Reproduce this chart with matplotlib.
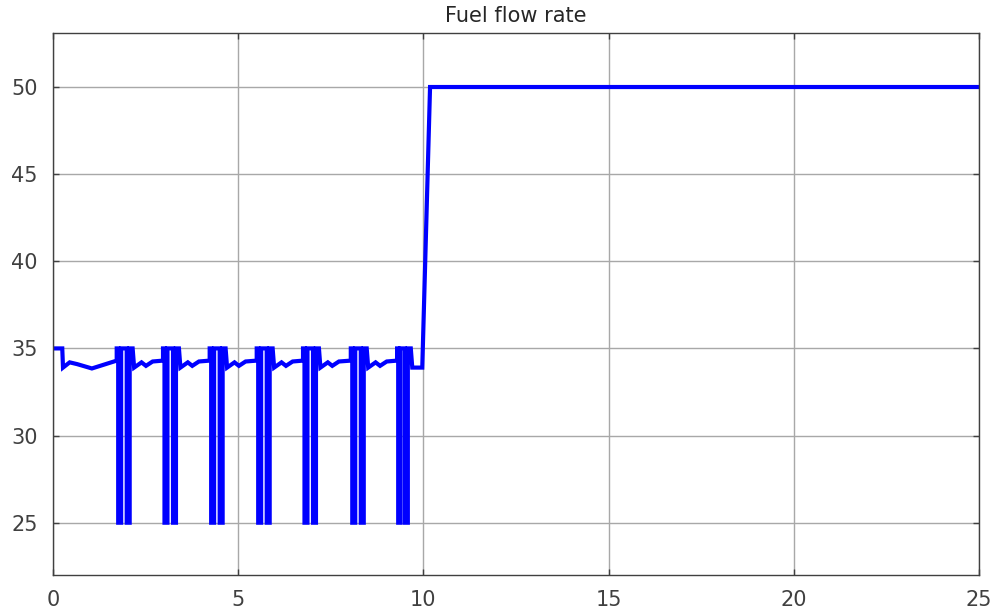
import matplotlib
matplotlib.use("Agg")
import matplotlib.pyplot as plt

# Fuel flow rate trace (time in s, flow value)
t = [
    0.00, 0.25, 0.27, 0.45, 0.65, 1.05, 1.72,
    1.72, 1.76, 1.76, 1.84, 1.84, 1.99, 1.99, 2.07, 2.07, 2.15, 2.19,
    2.39, 2.51, 2.69, 2.97,
    2.97, 3.01, 3.01, 3.09, 3.09, 3.24, 3.24, 3.32, 3.32, 3.40, 3.44,
    3.64, 3.76, 3.94, 4.23,
    4.23, 4.27, 4.27, 4.35, 4.35, 4.50, 4.50, 4.58, 4.58, 4.66, 4.70,
    4.90, 5.02, 5.20, 5.50,
    5.50, 5.54, 5.54, 5.62, 5.62, 5.77, 5.77, 5.85, 5.85, 5.93, 5.97,
    6.17, 6.29, 6.47, 6.75,
    6.75, 6.79, 6.79, 6.87, 6.87, 7.02, 7.02, 7.10, 7.10, 7.18, 7.22,
    7.42, 7.54, 7.72, 8.04,
    8.04, 8.08, 8.08, 8.16, 8.16, 8.31, 8.31, 8.39, 8.39, 8.47, 8.51,
    8.71, 8.83, 9.01, 9.29,
    9.29, 9.32, 9.32, 9.38, 9.38, 9.50, 9.50, 9.58, 9.58, 9.66, 9.70,
    9.97, 10.18, 25.00,
]
fuel = [
    35.0, 35.0, 33.9, 34.2, 34.1, 33.85, 34.3,
    35.0, 35.0, 25.0, 25.0, 35.0, 35.0, 25.0, 25.0, 35.0, 35.0, 33.9,
    34.2, 34.0, 34.25, 34.3,
    35.0, 35.0, 25.0, 25.0, 35.0, 35.0, 25.0, 25.0, 35.0, 35.0, 33.9,
    34.2, 34.0, 34.25, 34.3,
    35.0, 35.0, 25.0, 25.0, 35.0, 35.0, 25.0, 25.0, 35.0, 35.0, 33.9,
    34.2, 34.0, 34.25, 34.3,
    35.0, 35.0, 25.0, 25.0, 35.0, 35.0, 25.0, 25.0, 35.0, 35.0, 33.9,
    34.2, 34.0, 34.25, 34.3,
    35.0, 35.0, 25.0, 25.0, 35.0, 35.0, 25.0, 25.0, 35.0, 35.0, 33.9,
    34.2, 34.0, 34.25, 34.3,
    35.0, 35.0, 25.0, 25.0, 35.0, 35.0, 25.0, 25.0, 35.0, 35.0, 33.9,
    34.2, 34.0, 34.25, 34.3,
    35.0, 35.0, 25.0, 25.0, 35.0, 35.0, 25.0, 25.0, 35.0, 35.0, 33.9,
    33.9, 50.0, 50.0,
]
x_ticks = [0, 5, 10, 15, 20, 25]
y_ticks = [25, 30, 35, 40, 45, 50]

fig = plt.figure(figsize=(10.02, 6.12), dpi=100)
ax = fig.add_axes([0.0529, 0.0605, 0.9241, 0.8856])
ax.plot(t, fuel, color="#0000ff", lw=3, solid_joinstyle="miter")

ax.set_xlim(0, 25)
ax.set_ylim(22, 53.1)
ax.set_xticks(x_ticks)
ax.set_yticks(y_ticks)
ax.grid(True, color="#a8a8a8", lw=1)
ax.set_axisbelow(True)
ax.tick_params(direction="in", length=4, width=1, colors="#404040",
               top=True, right=True, labelsize=15, labelcolor="#404040", pad=11)
for s in ax.spines.values():
    s.set_color("#404040")
    s.set_linewidth(1)
ax.set_title("Fuel flow rate", fontsize=15, color="#262626", pad=8)

fig.savefig("out.png", dpi=100)
plt.close(fig)
